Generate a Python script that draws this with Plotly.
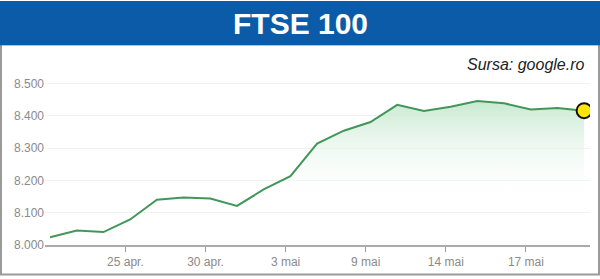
import plotly.graph_objects as go

dates = ["22 apr.", "23 apr.", "24 apr.", "25 apr.", "26 apr.", "29 apr.", "30 apr.",
         "1 mai", "2 mai", "3 mai", "7 mai", "8 mai", "9 mai", "10 mai", "13 mai",
         "14 mai", "15 mai", "16 mai", "17 mai", "20 mai", "21 mai"]
values = [8024, 8045, 8040, 8079, 8140, 8147, 8144, 8121, 8172, 8213, 8314,
          8354, 8381, 8434, 8415, 8428, 8446, 8439, 8420, 8424, 8416]
tick_labels = ["25 apr.", "30 apr.", "3 mai", "9 mai", "14 mai", "17 mai"]
y_ticks = [8000, 8100, 8200, 8300, 8400, 8500]

idx = list(range(len(dates)))
tick_idx = [dates.index(t) - 0.18 for t in tick_labels]

W, H = 600, 279
L, R, T, B = 45, 10, 60, 31
pw, ph = W - L - R, H - T - B


def px(x):
    return (x - L) / pw


def py(y):
    return (H - B - y) / ph


fig = go.Figure()
fig.add_trace(go.Scatter(
    x=idx, y=values, mode="lines",
    line=dict(color="#43965a", width=2),
    fill="tozeroy",
    fillgradient=dict(type="vertical",
                      colorscale=[[0, "rgba(255,255,255,0)"], [1, "rgba(196,232,205,0.95)"]],
                      start=8140, stop=8450),
    hoverinfo="skip", showlegend=False,
))
fig.add_trace(go.Scatter(
    x=[idx[-1]], y=[values[-1]], mode="markers",
    marker=dict(size=15, color="#ffe40a", line=dict(color="#111111", width=2)),
    showlegend=False, hoverinfo="skip",
))

fig.update_layout(
    width=W, height=H,
    margin=dict(l=L, r=R, t=T, b=B),
    paper_bgcolor="white", plot_bgcolor="white",
    separators=",.",
    font=dict(family="Liberation Sans, Arial, sans-serif"),
    xaxis=dict(
        range=[-0.19, 20.22], tickvals=tick_idx, ticktext=tick_labels,
        showgrid=False, zeroline=False,
        showline=True, linecolor="#aaaaaa", linewidth=2,
        ticks="outside", ticklen=5, tickcolor="#999999", tickwidth=1,
        tickfont=dict(size=12, color="#8a8a8a"),
    ),
    yaxis=dict(
        range=[8000, 8573], tickvals=y_ticks, tickformat=",d",
        showgrid=True, gridcolor="#f1f1f1", gridwidth=1, zeroline=False,
        ticks="", tickfont=dict(size=12, color="#8a8a8a"),
    ),
    shapes=[
        dict(type="rect", xref="paper", yref="paper",
             x0=px(1), x1=px(599), y0=py(278), y1=py(44),
             line=dict(color="#9a9a9a", width=2), fillcolor="rgba(0,0,0,0)", layer="below"),
        dict(type="rect", xref="paper", yref="paper",
             x0=px(0), x1=px(600), y0=py(45), y1=py(0),
             line=dict(width=0), fillcolor="#0b5ba8", layer="above"),
    ],
    annotations=[
        dict(text="<b>FTSE 100</b>", xref="paper", yref="paper",
             x=px(300), y=py(23), xanchor="center", yanchor="middle", showarrow=False,
             font=dict(size=30, color="white", family="Liberation Sans, Arial, sans-serif")),
        dict(text="<i>Sursa: google.ro</i>", xref="paper", yref="paper",
             x=px(587), y=py(65), xanchor="right", yanchor="middle", showarrow=False,
             font=dict(size=16, color="#222222", family="Liberation Sans, Arial, sans-serif")),
    ],
)

fig.write_html("out.html")
